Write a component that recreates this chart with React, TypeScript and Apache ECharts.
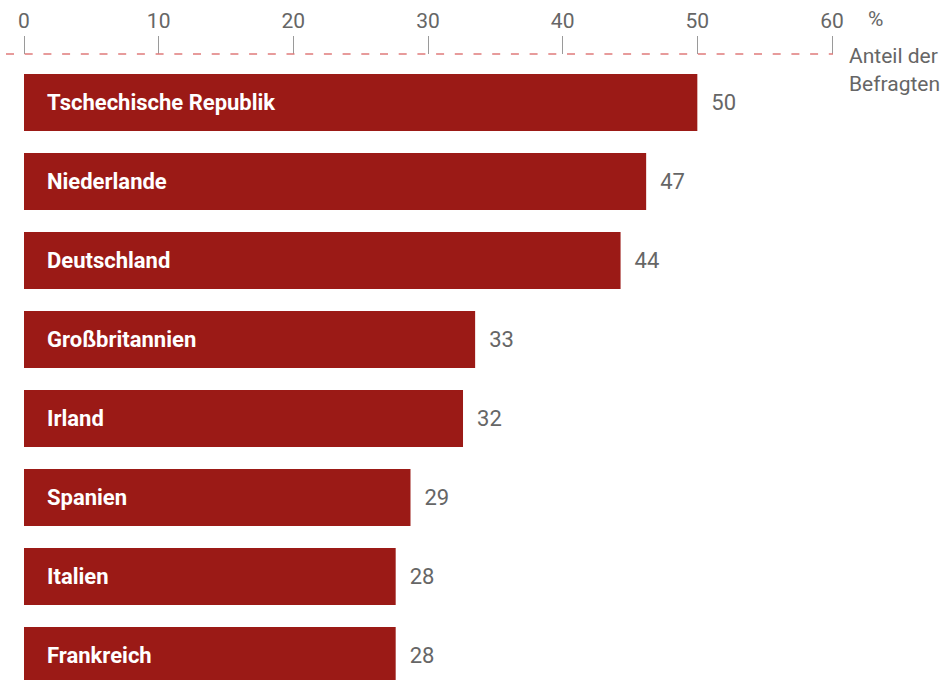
import React, { useEffect, useRef } from "react";
import * as echarts from "echarts";

const categories = [
  "Tschechische Republik",
  "Niederlande",
  "Deutschland",
  "Großbritannien",
  "Irland",
  "Spanien",
  "Italien",
  "Frankreich",
];
const barValues = [50.0, 46.2, 44.3, 33.5, 32.6, 28.7, 27.6, 27.6];
const valueLabels = ["50", "47", "44", "33", "32", "29", "28", "28"];
const axisUnit = "%";
const axisTitle = "Anteil der\nBefragten";

const FONT = "'Roboto', 'Open Sans', sans-serif";

export default function App() {
  const ref = useRef<HTMLDivElement>(null);
  useEffect(() => {
    if (!ref.current) return;
    const chart = echarts.init(ref.current, null, { renderer: "svg" });
    chart.setOption({
      animation: false,
      backgroundColor: "#ffffff",
      grid: { left: 24, right: 110, top: 63, bottom: 15, containLabel: false },
      xAxis: {
        type: "value",
        position: "top",
        min: 0,
        max: 60,
        interval: 10,
        offset: 9,
        axisLine: { show: false },
        axisTick: { show: true, length: 18, lineStyle: { color: "#9a9a9a", width: 1 } },
        axisLabel: { color: "#666666", fontSize: 21, fontFamily: FONT, margin: 23 },
        splitLine: { show: false },
      },
      yAxis: {
        type: "category",
        inverse: true,
        data: categories,
        axisLine: { show: false },
        axisTick: { show: false },
        axisLabel: { show: false },
      },
      graphic: [
        {
          type: "line",
          shape: { x1: 6, y1: 54, x2: 833, y2: 54 },
          style: { stroke: "#e07b7b", lineWidth: 1.5, lineDash: [8, 10.7] },
          z: 10,
        },
        {
          type: "text",
          left: 868,
          top: 8,
          style: { text: axisUnit, fill: "#666666", fontSize: 21, fontFamily: FONT },
        },
        {
          type: "text",
          left: 849,
          top: 42,
          style: {
            text: axisTitle,
            fill: "#666666",
            fontSize: 21,
            lineHeight: 28,
            fontFamily: FONT,
          },
        },
      ],
      series: [
        {
          type: "bar",
          data: barValues,
          barWidth: 57,
          itemStyle: { color: "#9b1a16" },
          label: {
            show: true,
            position: "insideLeft",
            distance: 23,
            formatter: (p: any) => categories[p.dataIndex],
            color: "#ffffff",
            fontWeight: "bold",
            fontSize: 22,
            fontFamily: FONT,
          },
          z: 2,
        },
        {
          type: "bar",
          data: barValues,
          barWidth: 57,
          barGap: "-100%",
          itemStyle: { color: "rgba(0,0,0,0)" },
          label: {
            show: true,
            position: "right",
            distance: 14,
            formatter: (p: any) => valueLabels[p.dataIndex],
            color: "#666666",
            fontSize: 22,
            fontFamily: FONT,
          },
          z: 3,
        },
      ],
    });
    return () => chart.dispose();
  }, []);
  return (
    <div style={{ position: "absolute", left: 0, top: 0, width: 942, height: 680, overflow: "hidden" }}>
      <div ref={ref} style={{ width: 942, height: 710 }} />
    </div>
  );
}
